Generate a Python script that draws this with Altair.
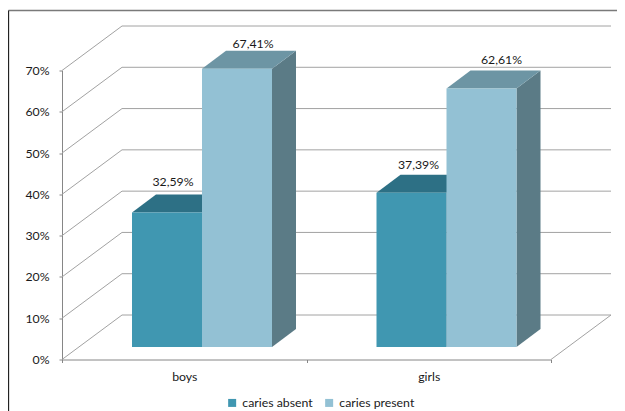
import altair as alt
import pandas as pd

groups = ["boys", "girls"]
series = ["caries absent", "caries present"]
absent = [32.59, 37.39]
present = [67.41, 62.61]
y_ticks = [0, 10, 20, 30, 40, 50, 60, 70]

front_colors = ["#4097B1", "#93C1D4"]
top_colors = ["#2D7085", "#6D95A4"]
side_colors = ["#2D6070", "#5B7B86"]
grid_color = "#A2A2A2"
axis_color = "#868686"
text_color = "#1A1A1A"
FONT = "Lato"
FS = 12.3

# geometry, expressed in scale units (one category wide, one percent tall)
PLOT_W, PLOT_H = 489, 289
XU = PLOT_W / 2
YU = PLOT_H / 70
WALL_DX, WALL_DY = 60 / XU, 44.5 / YU
BAR_W = 70 / XU
BAR_START = 70 / XU
BAR_DX, BAR_DY = 24 / XU, 18 / YU
BASE = 12.5 / YU

y_axis = alt.Axis(values=y_ticks, labelExpr="datum.value + '%'", grid=False, title=None,
                  domainColor=axis_color, tickColor=axis_color, tickSize=3, labelPadding=10,
                  labelFont=FONT, labelFontSize=FS, labelColor=text_color)

x_scale = alt.Scale(domain=[0, 2], nice=False, zero=False)
y_scale = alt.Scale(domain=[0, 70], nice=False, zero=False)
X = lambda f: alt.X(f, type="quantitative", scale=x_scale, axis=None)
Y = lambda f: alt.Y(f, type="quantitative", scale=y_scale, axis=y_axis)

values = [absent, present]
bars = []
for gi, g in enumerate(groups):
    for si, s in enumerate(series):
        x0 = gi + BAR_START + si * BAR_W
        bars.append(dict(group=g, series=s, si=si, v=values[si][gi], x0=x0, x1=x0 + BAR_W,
                         base=BASE, top=BASE + values[si][gi], id=f"{g}-{s}"))
bar_df = pd.DataFrame(bars)

layers = []

# chart frame
frame_left = (8.5 - 62) / XU
frame_top = (359.5 - 10.5) / YU
frame_right = (640 - 62) / XU
frame_bottom = (359.5 - 420) / YU
layers.append(alt.Chart(pd.DataFrame({"x": [frame_left], "x2": [frame_right], "y": [frame_top]}))
              .mark_rule(color="#7A7A7A", strokeWidth=1.5)
              .encode(x=X("x"), x2="x2", y=Y("y")))
layers.append(alt.Chart(pd.DataFrame({"x": [frame_left], "y": [frame_top], "y2": [frame_bottom]}))
              .mark_rule(color="#222222", strokeWidth=1.3)
              .encode(x=X("x"), y=Y("y"), y2="y2"))

# back wall gridlines
grid_df = pd.DataFrame({"x": [WALL_DX] * len(y_ticks),
                        "x2": [2 + WALL_DX] * len(y_ticks),
                        "y": [t + WALL_DY for t in y_ticks]})
layers.append(alt.Chart(grid_df).mark_rule(color=grid_color, strokeWidth=1)
              .encode(x=X("x"), x2="x2", y=Y("y")))

# side wall diagonals and the floor's right edge
diag = []
for t in y_ticks:
    diag.append(dict(k=f"d{t}", x=0, y=t))
    diag.append(dict(k=f"d{t}", x=WALL_DX, y=t + WALL_DY))
diag.append(dict(k="floor", x=2, y=0))
diag.append(dict(k="floor", x=2 + WALL_DX, y=WALL_DY))
layers.append(alt.Chart(pd.DataFrame(diag)).mark_line(color=grid_color, strokeWidth=1)
              .encode(x=X("x"), y=Y("y"), detail="k:N"))

# top and side faces
for si in range(len(series)):
    sub = bar_df[bar_df.si == si]
    tops, sides = [], []
    for _, b in sub.iterrows():
        tops.append(dict(id=b.id, y=b.top, x=b.x0, x2=b.x1))
        tops.append(dict(id=b.id, y=b.top + BAR_DY, x=b.x0 + BAR_DX, x2=b.x1 + BAR_DX))
        sides.append(dict(id=b.id, x=b.x1, y=b.base, y2=b.top))
        sides.append(dict(id=b.id, x=b.x1 + BAR_DX, y=b.base + BAR_DY, y2=b.top + BAR_DY))
    layers.append(alt.Chart(pd.DataFrame(sides))
                  .mark_area(orient="vertical", color=side_colors[si], opacity=1)
                  .encode(x=X("x"), y=Y("y"), y2="y2", detail="id:N"))
    layers.append(alt.Chart(pd.DataFrame(tops))
                  .mark_area(orient="horizontal", color=top_colors[si], opacity=1)
                  .encode(y=Y("y"), x=X("x"), x2="x2", detail="id:N"))

# front faces, with the legend
layers.append(alt.Chart(bar_df).mark_rect(opacity=1).encode(
    x=X("x0"), x2="x1", y=Y("base"), y2="top",
    color=alt.Color("series:N",
                    scale=alt.Scale(domain=series, range=front_colors),
                    legend=alt.Legend(orient="none", legendX=164, legendY=326,
                                      direction="horizontal", title=None,
                                      symbolType="square", symbolSize=64,
                                      columnPadding=10, labelFont=FONT, labelFontSize=FS,
                                      labelColor=text_color, labelOffset=4, padding=0)),
))

# value labels
nudge_x = [41, 51, 42, 55]
nudge_y = [30, 25, 28, 29]
lab = bar_df.copy()
lab["text"] = [f"{v:.2f}".replace(".", ",") + "%" for v in lab.v]
lab["lx"] = [x + n / XU for x, n in zip(lab.x0, nudge_x)]
lab["ly"] = [t + n / YU for t, n in zip(lab.top, nudge_y)]
layers.append(alt.Chart(lab).mark_text(font=FONT, fontSize=FS, color=text_color, baseline="middle")
              .encode(x=X("lx"), y=Y("ly"), text="text:N"))

# category axis
layers.append(alt.Chart(pd.DataFrame({"g": groups, "y": [0, 0]})).mark_point(opacity=0).encode(
    x=alt.X("g:N", sort=groups, title=None,
            scale=alt.Scale(type="band", paddingInner=0, paddingOuter=0),
            axis=alt.Axis(tickBand="extent", labelAngle=0, grid=False, domainColor=axis_color,
                          tickColor=axis_color, tickSize=3, labelPadding=8,
                          labelFont=FONT, labelFontSize=FS, labelColor=text_color)),
    y=Y("y"),
))

chart = (alt.layer(*layers)
         .resolve_scale(x="independent")
         .properties(width=PLOT_W, height=PLOT_H,
                     autosize=alt.AutoSizeParams(type="none"),
                     padding={"left": 54, "top": 62.5, "right": 66, "bottom": 51.5},
                     background="white")
         .configure_view(strokeWidth=0))

chart.save("out.html", embed_options={"renderer": "svg", "actions": False})
